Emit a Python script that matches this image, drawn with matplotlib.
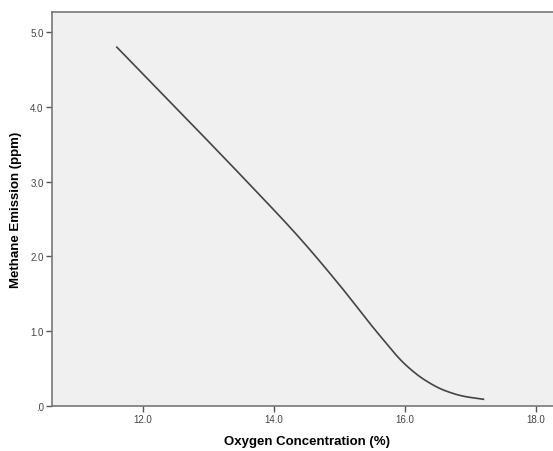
import numpy as np
import matplotlib
matplotlib.use('Agg')
import matplotlib.pyplot as plt
from matplotlib.ticker import FuncFormatter

plt.rcParams['font.family'] = ['Liberation Sans', 'DejaVu Sans']

# values
oxygen = [11.6, 12.6, 13.6, 14.4, 15.0, 15.6, 16.0, 16.3, 16.6, 16.9, 17.2]
methane = [4.80, 3.90, 2.99, 2.24, 1.62, 0.96, 0.56, 0.35, 0.21, 0.13, 0.09]
xticks = [12.0, 14.0, 16.0, 18.0]
yticks = [0.0, 1.0, 2.0, 3.0, 4.0, 5.0]

W, H = 553, 452
fig = plt.figure(figsize=(W / 100, H / 100), dpi=100)
ax = fig.add_axes([52 / W, (H - 407) / H, (562 - 52) / W, (407 - 13) / H])
ax.set_facecolor('#f0f0f0')

# monotone cubic through the read points (Fritsch-Carlson)
x = np.array(oxygen)
y = np.array(methane)
h = np.diff(x)
d = np.diff(y) / h
m = np.zeros_like(y)
m[0], m[-1] = d[0], d[-1]
for i in range(1, len(x) - 1):
    if d[i - 1] * d[i] > 0:
        w1 = 2 * h[i] + h[i - 1]
        w2 = h[i] + 2 * h[i - 1]
        m[i] = (w1 + w2) / (w1 / d[i - 1] + w2 / d[i])
xs = np.linspace(x[0], x[-1], 400)
idx = np.clip(np.searchsorted(x, xs) - 1, 0, len(x) - 2)
t = (xs - x[idx]) / h[idx]
ys = ((2 * t**3 - 3 * t**2 + 1) * y[idx] + (t**3 - 2 * t**2 + t) * h[idx] * m[idx]
      + (-2 * t**3 + 3 * t**2) * y[idx + 1] + (t**3 - t**2) * h[idx] * m[idx + 1])
ax.plot(xs, ys, color='#444444', lw=1.2)

ax.set_xlim(10.61, 18.4)
ax.set_ylim(0, 5.27)
ax.set_xticks(xticks)
ax.set_yticks(yticks)

def fmt(v, pos):
    s = '%.1f' % abs(v)
    return s[1:] if s.startswith('0') else s

ax.xaxis.set_major_formatter(FuncFormatter(fmt))
ax.yaxis.set_major_formatter(FuncFormatter(fmt))
ax.tick_params(direction='out', length=4, width=1, color='#555555',
               labelsize=7, labelcolor='#444444', pad=2)

for side in ['left', 'bottom', 'top']:
    ax.spines[side].set_color('#777777')
    ax.spines[side].set_linewidth(1.2)
ax.spines['right'].set_visible(False)

ax.set_xlabel('Oxygen Concentration (%)', fontsize=9.5, fontweight='bold', labelpad=8)
ax.set_ylabel('Methane Emission (ppm)', fontsize=9.5, fontweight='bold', labelpad=6)

fig.savefig('out.png', dpi=100)
